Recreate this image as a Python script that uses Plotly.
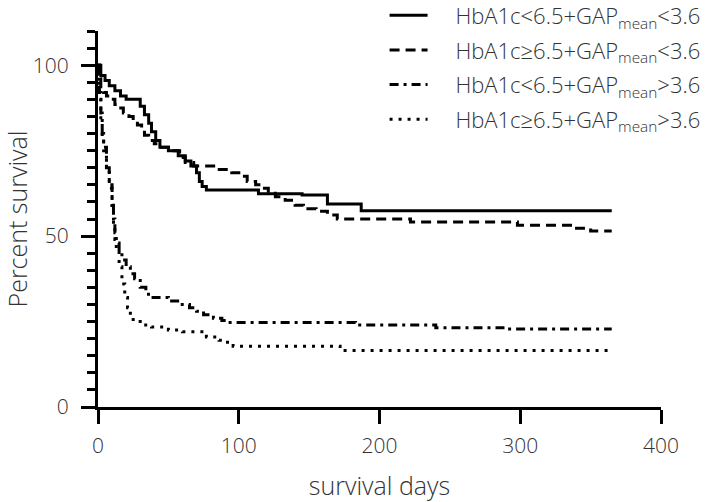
import plotly.graph_objects as go

# Kaplan-Meier step data (days, percent survival)
t_a = [0, 2, 5, 8, 12, 16, 20, 30, 33, 36, 38, 41, 44, 50, 57, 62, 66, 70, 72, 74, 77, 114, 145, 163, 187, 365]
s_a = [100, 97, 95.5, 94, 92.5, 91, 90, 88, 85.5, 83, 80.5, 78, 76, 75, 73.5, 72, 70.5, 68.5, 66, 64.5, 63.5, 62.4, 62.0, 59.4, 57.4, 57.4]

t_b = [0, 1, 2, 4, 6, 9, 12, 15, 18, 22, 25, 28, 31, 33, 36, 40, 45, 52, 58, 62, 68, 85, 95, 102, 106, 112, 117, 121, 126, 133, 140, 146, 155, 163, 170, 222, 298, 340, 350, 365]
s_b = [100, 96, 93, 92, 91, 90, 88.5, 87.5, 86, 85, 83.5, 82.5, 81, 79.5, 78, 77, 76, 75, 73, 71.5, 70.5, 69.5, 68.5, 67.5, 66, 65, 64, 62.5, 61.5, 60.5, 59, 58, 57.3, 56.2, 55, 54.1, 53.2, 52.3, 51.5, 51.5]

t_c = [0, 1, 2, 3, 4, 6, 8, 10, 11, 12, 13, 15, 17, 20, 23, 26, 30, 34, 38, 50, 58, 65, 70, 75, 82, 88, 92, 183, 240, 290, 365]
s_c = [100, 92, 86, 80, 76, 70, 65, 59, 55, 51, 48, 45, 43, 41, 39, 37.5, 35, 33, 32, 31, 30, 29, 28, 27, 26, 25.3, 24.7, 24, 23.2, 22.8, 22.8]

t_d = [0, 1, 2, 3, 4, 6, 8, 10, 11, 12, 13, 15, 17, 19, 21, 23, 25, 30, 38, 50, 60, 77, 86, 92, 96, 172, 365]
s_d = [100, 90, 84, 79, 75, 70, 64, 58, 53, 49, 46, 41, 36, 32, 29, 26.5, 25, 24, 23.4, 22.5, 22, 20.5, 19.5, 18.5, 17.8, 16.5, 16.5]

names = [
    "HbA1c<6.5+GAP<sub>mean</sub><3.6",
    "HbA1c≥6.5+GAP<sub>mean</sub><3.6",
    "HbA1c<6.5+GAP<sub>mean</sub>>3.6",
    "HbA1c≥6.5+GAP<sub>mean</sub>>3.6",
]
x_ticks = [0, 100, 200, 300, 400]
y_ticks = [0, 50, 100]

series = [(t_a, s_a, "solid"), (t_b, s_b, "10px,6px"), (t_c, s_c, "9px,5px,3px,5px"), (t_d, s_d, "3px,6px")]

pad = "\u00a0\u00a0\u00a0\u00a0"
fig = go.Figure()
for i, ((t, s, dash), nm) in enumerate(zip(series, names)):
    fig.add_trace(go.Scatter(
        x=t, y=s, mode="lines", line=dict(shape="hv", color="black", width=3, dash=dash),
        name=pad + nm, legendgroup=f"g{i}", hoverinfo="skip"))

fontfam = "Open Sans, Noto Sans, sans-serif"
fig.update_layout(
    width=709, height=502,
    margin=dict(l=98, r=48, t=31, b=95, autoexpand=False),
    paper_bgcolor="white", plot_bgcolor="white",
    font=dict(family=fontfam, size=21, color="#333", weight=300),
    showlegend=True,
    legend=dict(x=0.509, y=1.097, xanchor="left", yanchor="top", bgcolor="rgba(0,0,0,0)",
                font=dict(size=22, color="#333", weight=300), tracegroupgap=3, itemwidth=38,
                traceorder="grouped"),
    xaxis=dict(range=[0, 400], tickvals=x_ticks, ticks="outside", ticklen=14, tickwidth=3,
               tickcolor="black", showline=True, linewidth=3, linecolor="black",
               showgrid=False, zeroline=False, ticklabelstandoff=4, automargin=False,
               title=dict(text="survival days", standoff=22), tickfont=dict(size=21)),
    yaxis=dict(range=[0, 110], tickvals=y_ticks, ticks="outside", ticklen=14, tickwidth=3,
               tickcolor="black", showline=True, linewidth=3, linecolor="black",
               showgrid=False, zeroline=False, ticklabelstandoff=8, automargin=False,
               minor=dict(dtick=5, tick0=0, ticks="outside", ticklen=8, tickwidth=3, tickcolor="black", showgrid=False),
               title=dict(text="Percent survival", standoff=26), tickfont=dict(size=21)),
)
fig.write_html("out.html", config={"displayModeBar": False},
               post_script="document.body.style.margin='0';document.body.style.overflow='hidden';")
